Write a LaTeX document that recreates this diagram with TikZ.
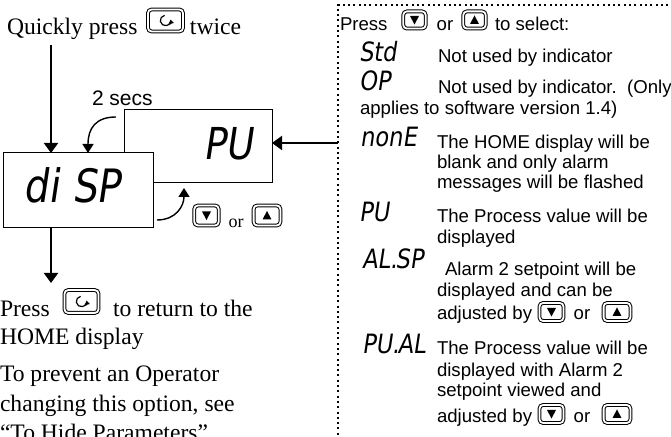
\documentclass[tikz,border=0pt]{standalone}
\usepackage{fontspec}
\setmainfont{Liberation Serif}
\newfontfamily\arialfont{Liberation Sans}
\newfontfamily\segfont[FakeSlant=0.15,FakeStretch=0.85]{DejaVu Sans}
\usetikzlibrary{arrows.meta,calc}

\newcommand\downkey[4]{%
  \node[keybox,minimum width=#3,minimum height=#4] (#1) at #2 {};
  \fill ($(#1.center)+(-4.5,-4)$) -- ($(#1.center)+(4.5,-4)$) -- ($(#1.center)+(0,4.5)$) -- cycle;}
\newcommand\upkey[4]{%
  \node[keybox,minimum width=#3,minimum height=#4] (#1) at #2 {};
  \fill ($(#1.center)+(-4.5,4)$) -- ($(#1.center)+(4.5,4)$) -- ($(#1.center)+(0,-4.5)$) -- cycle;}
\newcommand\scrollkey[4]{%
  \node[keybox,minimum width=#3,minimum height=#4] (#1) at #2 {};
  \draw[line width=0.6pt,-{Triangle[length=2pt,width=2.6pt]}] ($(#1.center)+(100:2.6pt)$) arc[start angle=100,end angle=370,radius=2.6pt];}
\newcommand\segdot{\makebox[0.2em][l]{.}}

\begin{document}
\begin{tikzpicture}[x=0.5pt,y=-0.5pt,
  every node/.style={inner sep=0pt,outer sep=0pt},
  serif/.style={font=\fontsize{11.8}{14}\selectfont,anchor=base west},
  smallserif/.style={font=\fontsize{9}{11}\selectfont,anchor=base},
  sans/.style={font=\arialfont\fontsize{9.3}{11}\selectfont,anchor=base west},
  sanscenter/.style={font=\arialfont\fontsize{9.3}{11}\selectfont,anchor=base},
  segsmall/.style={font=\segfont\fontsize{13.3}{15}\selectfont,anchor=base west},
  seglarge/.style={font=\segfont\fontsize{23}{26}\selectfont,anchor=base west},
  segmid/.style={font=\segfont\fontsize{22}{25}\selectfont,anchor=base west},
  keybox/.style={draw,line width=0.5pt,double=white,double distance=0.9pt,rounded corners=1.8pt},
  dispbox/.style={draw,line width=0.5pt,anchor=north west},
  panel/.style={draw,line width=1pt,dash pattern=on 1pt off 1.65pt,anchor=north west},
  conn/.style={line width=1pt,-{Triangle[length=5pt,width=7pt]}},
  curvearrow/.style={line width=0.7pt,-{Triangle[length=4.5pt,width=5.5pt]}}
]
\useasboundingbox (0,0) rectangle (671,437);

% left column
\node[serif] (quick) at (7,35) {Quickly press};
\scrollkey{k1}{(165.5,20.5)}{17.5pt}{11pt}
\node[serif] (twice) at (190,35) {twice};

\node[dispbox,minimum width=74pt,minimum height=36.5pt] (pubox) at (124,110) {};
\node[segmid] (putext) at (203,160) {PU};
\node[dispbox,fill=white,minimum width=75pt,minimum height=37.5pt] (disp) at (3,153) {};
\node[seglarge] (disptext) at (24,203) {di SP};

\node[font=\arialfont\fontsize{10.5}{12}\selectfont,anchor=base west] (secs) at (92,106) {2 secs};

\coordinate (a1s) at (51,45);
\draw[conn] (a1s) -- (a1s |- disp.north);
\coordinate (c1s) at (116,117);
\coordinate (c1e) at (88,153);
\draw[curvearrow] (c1s) .. controls (96,117) and (88,128) .. (c1e);

\coordinate (c2s) at (157,220);
\coordinate (c2e) at (184,188);
\draw[curvearrow] (c2s) .. controls (176,220) and (184,206) .. (c2e);
\downkey{k2}{(206.5,215.5)}{12.2pt}{10pt}
\node[smallserif] (or1) at (236,228) {or};
\upkey{k3}{(267,215.5)}{13.4pt}{10pt}

\coordinate (a2e) at (51,283);
\draw[conn] (disp.south -| a2e) -- (a2e);

\node[serif] (press) at (0,317) {Press};
\scrollkey{k4}{(81.5,301.5)}{17pt}{11.4pt}
\node[serif] (ret) at (113,317) {to return to the};
\node[serif] (home) at (0,345) {HOME display};
\node[serif] (prev1) at (0,382) {To prevent an Operator};
\node[serif] (prev2) at (0,412) {changing this option, see};
\node[serif] (prev3) at (0,441) {“To Hide Parameters”};

% right panel
\node[panel,minimum width=200pt,minimum height=250pt] (panel) at (338,5) {};
\coordinate (ay) at (300,143);
\draw[conn] (ay -| panel.west) -- (ay -| pubox.east);

\node[sans] (sel1) at (340,31) {Press};
\downkey{k5}{(414.5,20)}{11.2pt}{8.6pt}
\node[sanscenter] (or2) at (445,31) {or};
\upkey{k6}{(474.5,20)}{11.2pt}{8.6pt}
\node[sans] (sel2) at (495,31) {to select:};

\node[segsmall] (s1) at (359,62) {Std};
\node[sans] (d1) at (438,63) {Not used by indicator};
\node[segsmall] (s2) at (359,91) {OP};
\node[sans] (d2) at (438,94) {Not used by indicator.\ \ (Only};
\node[sans] (d2b) at (360,115) {applies to software version 1.4)};
\node[segsmall] (s3) at (360,147) {nonE};
\node[sans] (d3a) at (437,149) {The HOME display will be};
\node[sans] (d3b) at (437,169) {blank and only alarm};
\node[sans] (d3c) at (437,189) {messages will be flashed};
\node[segsmall] (s4) at (359,222) {PU};
\node[sans] (d4a) at (437,223) {The Process value will be};
\node[sans] (d4b) at (437,244) {displayed};
\node[segsmall] (s5) at (362,269) {AL\segdot SP};
\node[sans] (d5a) at (445,276) {Alarm 2 setpoint will be};
\node[sans] (d5b) at (437,297) {displayed and can be};
\node[sans] (d5c) at (437,320) {adjusted by};
\downkey{k7}{(551.5,312)}{12pt}{9pt}
\node[sanscenter] (or3) at (582,320) {or};
\upkey{k8}{(617,312)}{13.4pt}{9pt}
\node[segsmall] (s6) at (362,354) {PU\segdot AL};
\node[sans] (d6a) at (437,355) {The Process value will be};
\node[sans] (d6b) at (437,377) {displayed with Alarm 2};
\node[sans] (d6c) at (437,397) {setpoint viewed and};
\node[sans] (d6d) at (437,423) {adjusted by};
\downkey{k9}{(551.5,414)}{12pt}{9pt}
\node[sanscenter] (or4) at (582,423) {or};
\upkey{k10}{(617,414)}{13.4pt}{9pt}
\end{tikzpicture}
\end{document}
